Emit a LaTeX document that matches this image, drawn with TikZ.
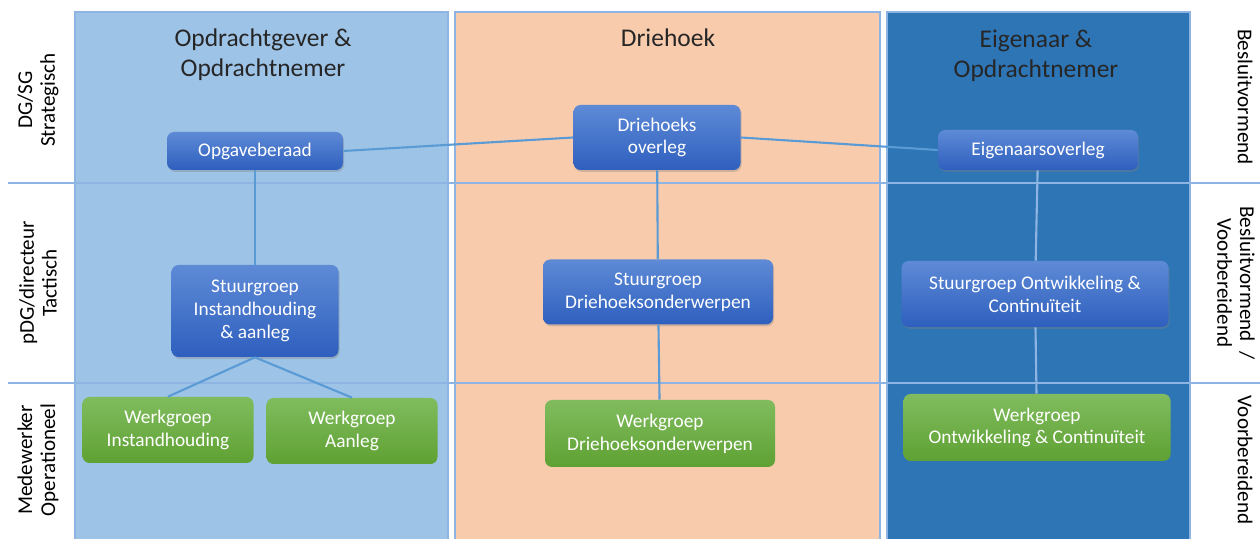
\documentclass[tikz,border=0pt]{standalone}
\usepackage{fontspec}
\setmainfont{Carlito}
\usepackage{tikz}
\usetikzlibrary{shadows}

\definecolor{paneA}{HTML}{9DC3E6}
\definecolor{paneB}{HTML}{F8CBAD}
\definecolor{paneC}{HTML}{2E75B6}
\definecolor{rim}{HTML}{8DB4E2}
\definecolor{link}{HTML}{5B9BD5}
\definecolor{bluetop}{HTML}{5E8AD6}
\definecolor{bluebot}{HTML}{2E5FBE}
\definecolor{greentop}{HTML}{80BC5E}
\definecolor{greenbot}{HTML}{5FA133}

\begin{document}
\begin{tikzpicture}[
    pane/.style={fill=#1,draw=rim,line width=0.8pt},
    lane/.style={draw=rim,line width=0.8pt},
    head/.style={align=center,font=\fontsize{14.5}{17}\selectfont,text=black!85},
    side/.style={align=center,font=\fontsize{12}{13}\selectfont},
    overleg/.style={rounded corners=4pt,align=center,text=white,
        top color=bluetop,bottom color=bluebot,
        drop shadow={opacity=0.35,shadow xshift=0.6pt,shadow yshift=-1pt},
        font=\fontsize{11}{13}\selectfont},
    werk/.style={rounded corners=4pt,align=center,text=white,
        top color=greentop,bottom color=greenbot,
        font=\fontsize{11}{13}\selectfont},
    link/.style={draw=link,line width=1.2pt}]
    \useasboundingbox (0,0) rectangle (25.2,-10.78);

    % kolommen
    \draw[pane=paneA] (1.5,-0.24) rectangle (8.96,-10.9);
    \draw[pane=paneB] (9.1,-0.24) rectangle (17.6,-10.9);
    \draw[pane=paneC] (17.74,-0.24) rectangle (23.8,-10.9);

    % niveaus
    \coordinate (l1a) at (0.16,-3.66);
    \coordinate (l1b) at (25.2,-3.66);
    \coordinate (l2a) at (0.16,-7.66);
    \coordinate (l2b) at (25.2,-7.66);
    \draw[lane] (l1a) -- (l1b);
    \draw[lane] (l2a) -- (l2b);

    \node[head] (hA) at (5.26,-1.1) {Opdrachtgever \&\\Opdrachtnemer};
    \node[head] (hB) at (13.36,-0.76) {Driehoek};
    \node[head] (hC) at (20.72,-1.12) {Eigenaar \&\\Opdrachtnemer};

    \node[side,rotate=90] (sL1) at (0.76,-2.0) {DG/SG\\Strategisch};
    \node[side,rotate=90] (sL2) at (0.76,-5.66) {pDG/directeur\\Tactisch};
    \node[side,rotate=90] (sL3) at (0.76,-9.2) {Medewerker\\Operationeel};
    \node[side,rotate=-90] (sR1) at (24.9,-1.94) {Besluitvormend};
    \node[side,rotate=-90] (sR2) at (24.72,-5.66) {Besluitvormend \ /\\Voorbereidend};
    \node[side,rotate=-90] (sR3) at (24.9,-9.2) {Voorbereidend};

    \node[overleg,minimum width=3.52cm,minimum height=0.76cm] (opgave) at (5.1,-3.02) {Opgaveberaad};
    \node[overleg,minimum width=3.34cm,minimum height=1.3cm] (driehoek) at (13.14,-2.75) {Driehoeks\\overleg};
    \node[overleg,minimum width=4.0cm,minimum height=0.8cm] (eigenaar) at (20.76,-3.0) {Eigenaarsoverleg};

    \node[overleg,minimum width=3.34cm,minimum height=1.84cm] (sInst) at (5.1,-6.22) {Stuurgroep\\Instandhouding\\\& aanleg};
    \node[overleg,minimum width=4.6cm,minimum height=1.3cm] (sDrie) at (13.16,-5.84) {Stuurgroep\\Driehoeksonderwerpen};
    \node[overleg,minimum width=5.34cm,minimum height=1.32cm] (sOntw) at (20.7,-5.88) {Stuurgroep Ontwikkeling \&\\Continuïteit};

    \node[werk,minimum width=3.42cm,minimum height=1.32cm] (wInst) at (3.36,-8.6) {Werkgroep\\Instandhouding};
    \node[werk,minimum width=3.42cm,minimum height=1.32cm] (wAanleg) at (7.04,-8.62) {Werkgroep\\Aanleg};
    \node[werk,minimum width=4.6cm,minimum height=1.34cm] (wDrie) at (13.2,-8.67) {Werkgroep\\Driehoeksonderwerpen};
    \node[werk,minimum width=5.34cm,minimum height=1.34cm] (wOntw) at (20.74,-8.55) {Werkgroep\\Ontwikkeling \& Continuïteit};

    \draw[link] (opgave.east) -- (driehoek.west);
    \draw[link] (driehoek.east) -- (eigenaar.west);
    \draw[link] (opgave) -- (sInst);
    \draw[link] (driehoek) -- (sDrie);
    \draw[link,draw=rim] (eigenaar) -- (sOntw);
    \draw[link] (sInst.south) -- (wInst.north);
    \draw[link] (sInst.south) -- (wAanleg.north);
    \draw[link] (sDrie) -- (wDrie);
    \draw[link,draw=rim] (sOntw) -- (wOntw);
\end{tikzpicture}
\end{document}
